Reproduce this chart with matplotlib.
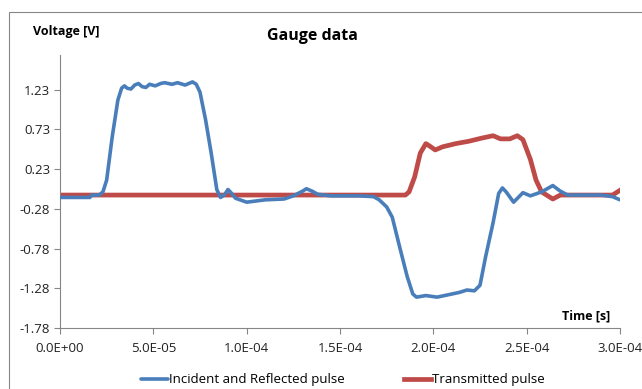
import matplotlib
matplotlib.use("Agg")
import matplotlib.pyplot as plt
from matplotlib.patches import Rectangle
import numpy as np

plt.rcParams['font.family'] = ['Open Sans', 'DejaVu Sans']

# Incident and Reflected pulse (time in 1e-5 s, voltage in V)
blue_t = [0, 1.6, 1.7, 2.1, 2.3, 2.5, 2.8, 3.1, 3.3, 3.45, 3.6, 3.8, 4.0, 4.2, 4.4, 4.6, 4.8,
          5.1, 5.4, 5.6, 6.0, 6.3, 6.7, 7.1, 7.3, 7.5, 7.8, 8.1, 8.4, 8.6, 8.8, 9.0, 9.2,
          9.4, 10.0, 11.0, 12.0, 12.5, 13.0, 13.2, 13.5, 13.8, 14.5, 16.0, 16.8, 17.1, 17.5,
          17.8, 18.2, 18.6, 18.9, 19.1, 19.6, 20.2, 20.8, 21.4, 21.8, 22.2, 22.5, 22.8, 23.2,
          23.5, 23.7, 23.9, 24.3, 24.8, 25.2, 25.8, 26.4, 26.8, 27.2, 29.0, 29.6, 30.0]
blue_v = [-0.13, -0.13, -0.10, -0.10, -0.06, 0.09, 0.64, 1.10, 1.25, 1.28, 1.25, 1.24, 1.29,
          1.31, 1.27, 1.26, 1.30, 1.28, 1.31, 1.32, 1.30, 1.32, 1.29, 1.33, 1.30, 1.20, 0.85,
          0.43, -0.03, -0.13, -0.10, -0.03, -0.08, -0.14, -0.19, -0.16, -0.15, -0.11, -0.05,
          -0.02, -0.05, -0.09, -0.11, -0.11, -0.12, -0.16, -0.25, -0.38, -0.76, -1.13, -1.35,
          -1.39, -1.37, -1.39, -1.36, -1.33, -1.30, -1.31, -1.24, -0.88, -0.45, -0.08, -0.01,
          -0.06, -0.19, -0.07, -0.11, -0.06, 0.02, -0.05, -0.10, -0.10, -0.12, -0.16]

# Transmitted pulse
red_t = [0, 18.5, 18.7, 19.0, 19.3, 19.6, 19.8, 20.1, 20.5, 21.2, 21.9, 22.6, 23.2, 23.6,
         24.1, 24.5, 24.8, 25.2, 25.5, 25.8, 26.4, 26.8, 29.6, 30.0]
red_v = [-0.10, -0.10, -0.06, 0.13, 0.43, 0.55, 0.52, 0.47, 0.51, 0.55, 0.58, 0.62, 0.65,
         0.61, 0.61, 0.65, 0.60, 0.35, 0.09, -0.06, -0.15, -0.10, -0.10, -0.04]

x_ticks = [0.0, 5e-5, 1e-4, 1.5e-4, 2e-4, 2.5e-4, 3e-4]
x_labels = ['0.0E+00', '5.0E-05', '1.0E-04', '1.5E-04', '2.0E-04', '2.5E-04', '3.0E-04']
y_ticks = [-1.78, -1.28, -0.78, -0.28, 0.23, 0.73, 1.23]
y_labels = ['-1.78', '-1.28', '-0.78', '-0.28', '0.23', '0.73', '1.23']

W, H = 642, 389
fig = plt.figure(figsize=(W / 100, H / 100), dpi=100)
ax = fig.add_axes([60 / W, (H - 328) / H, (620 - 60) / W, (328 - 55) / H])

blue_c = '#4A7EBB'
red_c = '#BE4B48'
ax.plot(np.array(blue_t) * 1e-5, blue_v, color=blue_c, lw=2.6, label='Incident and Reflected pulse',
        solid_joinstyle='round', solid_capstyle='round', zorder=3)
ax.plot(np.array(red_t) * 1e-5, red_v, color=red_c, lw=3.4, label='Transmitted pulse',
        solid_joinstyle='round', zorder=2)

ax.set_xlim(0, 3e-4)
ax.set_ylim(-1.78, 1.67)
ax.set_xticks(x_ticks)
ax.set_xticklabels(x_labels)
ax.set_yticks(y_ticks)
ax.set_yticklabels(y_labels)

gray = '#868686'
for s in ['top', 'right']:
    ax.spines[s].set_visible(False)
for s in ['left', 'bottom']:
    ax.spines[s].set_color(gray)
    ax.spines[s].set_linewidth(0.8)
ax.tick_params(axis='both', colors=gray, labelcolor='#222222', labelsize=9.5, length=4, width=0.8)
ax.tick_params(axis='x', pad=6)
ax.tick_params(axis='y', pad=3)

fig.text(312 / W, 1 - 36 / H, 'Gauge data', ha='center', va='center', fontsize=11.5, fontweight='bold')
fig.text(33 / W, 1 - 32 / H, 'Voltage [V]', ha='left', va='center', fontsize=9, fontweight='bold')
fig.text(610 / W, 1 - 316 / H, 'Time [s]', ha='right', va='center', fontsize=9, fontweight='bold')

leg = fig.legend(loc='center', bbox_to_anchor=(343 / W, 1 - 380 / H), ncol=2, frameon=False,
                 fontsize=9.5, handlelength=2.0, handletextpad=0.1, columnspacing=4.5)

fig.patches.append(Rectangle((9 / W, -0.05), 1.0, 1 - 12 / H + 0.05, transform=fig.transFigure,
                             fill=False, edgecolor=gray, lw=0.8, zorder=0))

fig.savefig('out.png', dpi=100)
